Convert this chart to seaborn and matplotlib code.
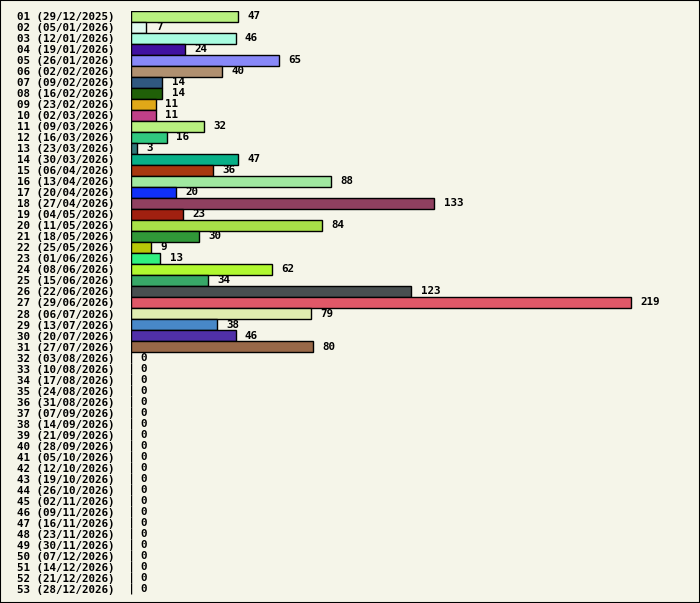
import matplotlib
matplotlib.use("Agg")
import matplotlib.pyplot as plt
from matplotlib.patches import Rectangle
import seaborn as sns

# weekly counts
weeks = ["%02d" % i for i in range(1, 54)]
dates = ["29/12/2025", "05/01/2026", "12/01/2026", "19/01/2026", "26/01/2026",
         "02/02/2026", "09/02/2026", "16/02/2026", "23/02/2026", "02/03/2026",
         "09/03/2026", "16/03/2026", "23/03/2026", "30/03/2026", "06/04/2026",
         "13/04/2026", "20/04/2026", "27/04/2026", "04/05/2026", "11/05/2026",
         "18/05/2026", "25/05/2026", "01/06/2026", "08/06/2026", "15/06/2026",
         "22/06/2026", "29/06/2026", "06/07/2026", "13/07/2026", "20/07/2026",
         "27/07/2026", "03/08/2026", "10/08/2026", "17/08/2026", "24/08/2026",
         "31/08/2026", "07/09/2026", "14/09/2026", "21/09/2026", "28/09/2026",
         "05/10/2026", "12/10/2026", "19/10/2026", "26/10/2026", "02/11/2026",
         "09/11/2026", "16/11/2026", "23/11/2026", "30/11/2026", "07/12/2026",
         "14/12/2026", "21/12/2026", "28/12/2026"]
counts = [47, 7, 46, 24, 65, 40, 14, 14, 11, 11, 32, 16, 3, 47, 36, 88, 20, 133,
          23, 84, 30, 9, 13, 62, 34, 123, 219, 79, 38, 46, 80,
          0, 0, 0, 0, 0, 0, 0, 0, 0, 0, 0, 0, 0, 0, 0, 0, 0, 0, 0, 0, 0, 0]
bar_colors = ["#b8f080", "#e0faf0", "#a8fce0", "#4010a0", "#8888f8", "#b09070",
              "#305880", "#206008", "#e0a818", "#c04088", "#b8f080", "#30c880",
              "#307878", "#08b088", "#a83810", "#a0e8a0", "#1030f8", "#904060",
              "#a02010", "#a8e048", "#309838", "#b8c808", "#30f080", "#b0f830",
              "#38a868", "#484f50", "#e05868", "#e0ecb0", "#4888c8", "#5030a8",
              "#986848"]
bar_colors = bar_colors + ["#888888"] * (len(counts) - len(bar_colors))

labels = [w + " (" + d + ")" for w, d in zip(weeks, dates)]
bg = "#f5f5e9"
fs = 7.8

sns.set_theme(style="white")
plt.rcParams["font.family"] = ["DejaVu Sans Mono"]

W, H = 700, 603
fig = plt.figure(figsize=(W / 100, H / 100), dpi=100, facecolor=bg)
left_px, right_px, top_px, bot_px = 130.5, 690, 10.5, 594.5
ax = fig.add_axes([left_px / W, (H - bot_px) / H, (right_px - left_px) / W, (bot_px - top_px) / H])
ax.set_facecolor(bg)

sns.barplot(x=counts, y=labels, hue=labels, palette=bar_colors, orient="h",
            width=1.0, edgecolor="black", linewidth=1.0, legend=False,
            saturation=1, ax=ax)

ax.set_xlim(0, max(counts) * (right_px - left_px) / 500.0)
ax.set_ylim(len(counts) - 0.5, -0.5)
for s in ax.spines.values():
    s.set_visible(False)
ax.set_xticks([])
ax.set_xlabel("")
ax.set_ylabel("")
ax.tick_params(axis="y", length=0, pad=11.5)
for t in ax.get_yticklabels():
    t.set_fontsize(fs)
    t.set_fontweight("bold")
    t.set_color("black")

for i, v in enumerate(counts):
    ax.annotate(str(v), xy=(v, i), xytext=(6.8, 0), textcoords="offset points",
                ha="left", va="center", fontsize=fs, fontweight="bold", color="black")

fig.patches.append(Rectangle((0, 0), 1, 1, transform=fig.transFigure, fill=False,
                             edgecolor="black", linewidth=1.5, zorder=10))

fig.savefig("out.png", dpi=100, facecolor=bg)
